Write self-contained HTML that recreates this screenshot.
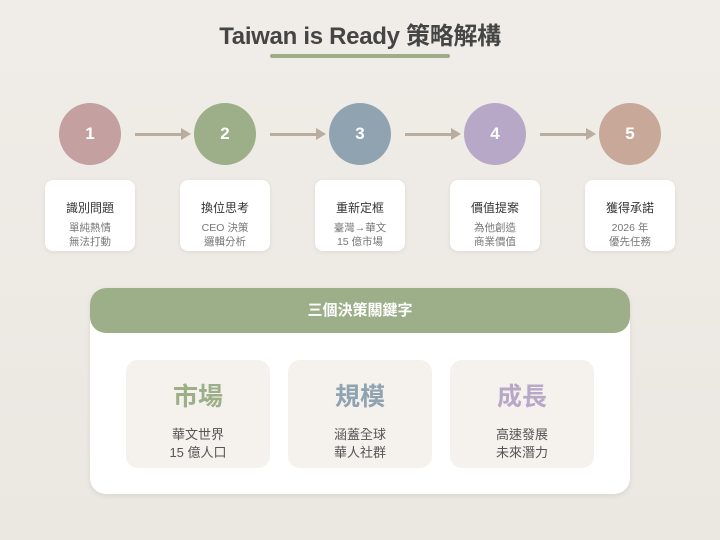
<!DOCTYPE html>
<html><head><meta charset="utf-8"><style>
*{margin:0;padding:0;box-sizing:border-box}
body{width:720px;height:540px;background:linear-gradient(180deg,#f0ede8,#ebe7e1);font-family:"Liberation Sans","Noto Sans CJK TC",sans-serif;position:relative;overflow:hidden}
.a{position:absolute}
h1{position:absolute;top:20px;left:0;width:720px;text-align:center;font-size:24px;font-weight:bold;color:#454545;letter-spacing:-0.3px;line-height:32px;top:21px}
.ul{left:270px;top:54px;width:180px;height:4px;border-radius:2px;background:#9caf88}
.c{width:62px;height:62px;border-radius:50%;top:103px;color:#fff;font-weight:bold;font-size:17px;text-align:center;line-height:62px}
.ar{top:133px;height:3px;width:48px;background:#b8ad9e}
.ah{top:128px;width:0;height:0;border-top:6px solid transparent;border-bottom:6px solid transparent;border-left:10px solid #b8ad9e}
.card{top:180px;width:90px;height:71px;background:#fff;border-radius:8px;box-shadow:0 1px 4px rgba(0,0,0,.08);text-align:center}
.card b{display:block;margin-top:21px;font-size:12px;font-weight:normal;color:#333;line-height:14px}
.card span{display:block;margin-top:6px;font-size:10.5px;color:#777;line-height:14px}
.panel{left:90px;top:288px;width:540px;height:206px;background:#fff;border-radius:16px;box-shadow:0 2px 6px rgba(0,0,0,.08);overflow:hidden}
.hd{height:45px;background:#9caf88;color:#fff;font-size:15px;font-weight:bold;text-align:center;line-height:45px;border-radius:16px}
.k{top:360px;width:144px;height:108px;background:#f5f1ed;border-radius:12px;text-align:center}
.k b{display:block;margin-top:21px;font-size:25px;line-height:32px}
.k span{display:block;margin-top:13px;font-size:13px;color:#555;line-height:18px}
</style></head><body>
<h1>Taiwan is Ready 策略解構</h1>
<div class="a ul"></div>
<div class="a c" style="left:59px;background:#c4a0a0">1</div>
<div class="a c" style="left:194px;background:#9caf88">2</div>
<div class="a c" style="left:329px;background:#8fa3b0">3</div>
<div class="a c" style="left:464px;background:#b8a8c8">4</div>
<div class="a c" style="left:599px;background:#c8a898">5</div>
<div class="a ar" style="left:135px"></div><div class="a ah" style="left:181px"></div>
<div class="a ar" style="left:270px"></div><div class="a ah" style="left:316px"></div>
<div class="a ar" style="left:405px"></div><div class="a ah" style="left:451px"></div>
<div class="a ar" style="left:540px"></div><div class="a ah" style="left:586px"></div>
<div class="a card" style="left:45px"><b>識別問題</b><span>單純熱情<br>無法打動</span></div>
<div class="a card" style="left:180px"><b>換位思考</b><span>CEO 決策<br>邏輯分析</span></div>
<div class="a card" style="left:315px"><b>重新定框</b><span>臺灣→華文<br>15 億市場</span></div>
<div class="a card" style="left:450px"><b>價值提案</b><span>為他創造<br>商業價值</span></div>
<div class="a card" style="left:585px"><b>獲得承諾</b><span>2026 年<br>優先任務</span></div>
<div class="a panel"><div class="hd">三個決策關鍵字</div></div>
<div class="a k" style="left:126px"><b style="color:#9caf88">市場</b><span>華文世界<br>15 億人口</span></div>
<div class="a k" style="left:288px"><b style="color:#8fa3b0">規模</b><span>涵蓋全球<br>華人社群</span></div>
<div class="a k" style="left:450px"><b style="color:#b8a8c8">成長</b><span>高速發展<br>未來潛力</span></div>
</body></html>
